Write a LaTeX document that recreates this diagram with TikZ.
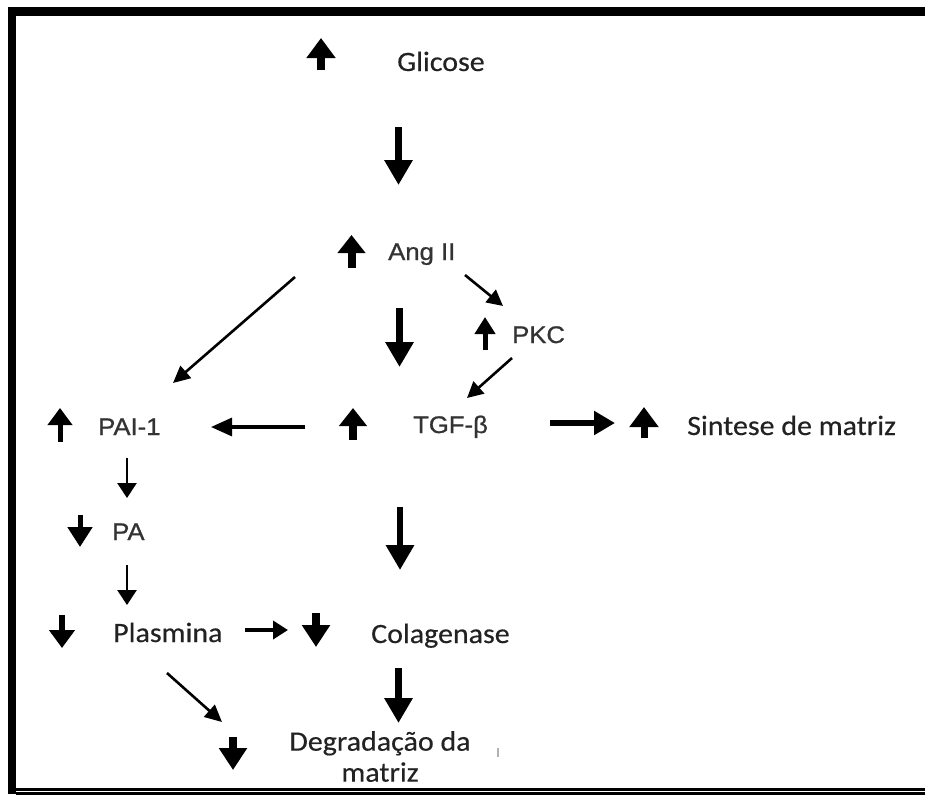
\documentclass[tikz,border=0pt]{standalone}
\usepackage{fontspec}
\setmainfont{Carlito}[FakeStretch=1.07,FakeBold=0.4]
\newfontfamily\arialf{Liberation Sans}[FakeStretch=1.07,FakeBold=0.9]
\usetikzlibrary{arrows.meta}
\definecolor{txtc}{HTML}{222222}
\definecolor{txtb}{HTML}{333333}
\tikzset{
  cal/.style={inner sep=0pt, text=txtc, font=\fontsize{28}{31}\selectfont},
  ari/.style={inner sep=0pt, text=txtb, font=\arialf\fontsize{24}{28}\selectfont},
  ind/.style n args={3}{line width=#1, -{Triangle[width=#2,length=#3]}},
  big/.style={line width=6.5pt, -{Triangle[width=27pt,length=25pt]}},
  thin/.style={line width=2.6pt, -{Triangle[width=16pt,length=16pt]}},
}
\begin{document}
\begin{tikzpicture}[x=1pt,y=-1pt]
\useasboundingbox (0,0) rectangle (925,796);
% frame
\fill[black] (8,7) rectangle (925,16);
\fill[black] (8,7) rectangle (16,794);
\fill[black] (16,788) rectangle (925,790.6);
\fill[black] (16,792.2) rectangle (925,794.5);
\draw[gray!60, line width=1.5pt] (498,748) -- (498,757);

% text nodes
\node[cal, anchor=base west] (glicose) at (397,71) {Glicose};
\node[ari, anchor=base west] (ang) at (388,260) {Ang II};
\node[ari, anchor=base west] (pkc) at (512,343) {PKC};
\node[ari, anchor=base west] (tgf) at (413,433) {TGF-β};
\node[ari, anchor=base west] (pai) at (98,435) {PAI-1};
\node[cal, anchor=base west] (sint) at (687,435) {Sintese de matriz};
\node[ari, anchor=base west] (pa) at (112,540) {PA};
\node[cal, anchor=base west] (plas) at (113,642) {Plasmina};
\node[cal, anchor=base west] (colag) at (371,643) {Colagenase};
\node[cal, anchor=north, align=center] (degr) at (380,731) {Degradação da\\matriz};

% indicator arrows
\draw[ind={8pt}{28pt}{20pt}] (321,70) -- (321,38);
\draw[ind={8pt}{27pt}{18pt}] (351.5,268) -- (351.5,235);
\draw[ind={5pt}{20pt}{17pt}] (485,350) -- (485,317);
\draw[ind={8pt}{27pt}{18pt}] (353,440) -- (353,408);
\draw[ind={5pt}{24pt}{17pt}] (60,442) -- (60,408);
\draw[ind={7pt}{28pt}{20pt}] (644,438) -- (644,407);
\draw[ind={5pt}{24pt}{20pt}] (80,515) -- (80,547);
\draw[ind={6pt}{25pt}{18pt}] (62,615) -- (62,648);
\draw[ind={8pt}{27pt}{22pt}] (316,613) -- (316,647);
\draw[ind={8pt}{27pt}{22pt}] (233,737) -- (233,770);

% connector end points
\coordinate (c1a) at (398.5,127); \coordinate (c1b) at (398.5,185);
\coordinate (c2a) at (399.5,308); \coordinate (c2b) at (399.5,367);
\coordinate (c3a) at (400,507);   \coordinate (c3b) at (400,570);
\coordinate (c4a) at (398.5,668); \coordinate (c4b) at (398.5,723);
\coordinate (c5a) at (465,275);   \coordinate (c5b) at (503,306);
\coordinate (c6a) at (512,358);   \coordinate (c6b) at (467,398);
\coordinate (c7a) at (295,277);   \coordinate (c7b) at (173,383);
\coordinate (c8a) at (305,427);   \coordinate (c8b) at (211,427);
\coordinate (c9a) at (550,423);   \coordinate (c9b) at (615,423);
\coordinate (c10a) at (127,458);  \coordinate (c10b) at (127,498);
\coordinate (c11a) at (127,565);  \coordinate (c11b) at (127,605);
\coordinate (c12a) at (245,630);  \coordinate (c12b) at (288,630);
\coordinate (c13a) at (167,673);  \coordinate (c13b) at (222,722);

% connectors
\draw[big] (c1a) -- (c1b);
\draw[big] (c2a) -- (c2b);
\draw[big] (c3a) -- (c3b);
\draw[big] (c4a) -- (c4b);
\draw[thin] (c5a) -- (c5b);
\draw[thin] (c6a) -- (c6b);
\draw[line width=2.6pt, -{Triangle[width=16pt,length=17pt]}] (c7a) -- (c7b);
\draw[line width=3.2pt, -{Triangle[width=18pt,length=21pt]}] (c8a) -- (c8b);
\draw[line width=5.5pt, -{Triangle[width=23pt,length=21pt]}] (c9a) -- (c9b);
\draw[line width=2.6pt, -{Triangle[width=19pt,length=15pt]}] (c10a) -- (c10b);
\draw[line width=2.6pt, -{Triangle[width=19pt,length=15pt]}] (c11a) -- (c11b);
\draw[line width=4pt, -{Triangle[width=18pt,length=15pt]}] (c12a) -- (c12b);
\draw[line width=2.6pt, -{Triangle[width=16pt,length=17pt]}] (c13a) -- (c13b);
\end{tikzpicture}
\end{document}
